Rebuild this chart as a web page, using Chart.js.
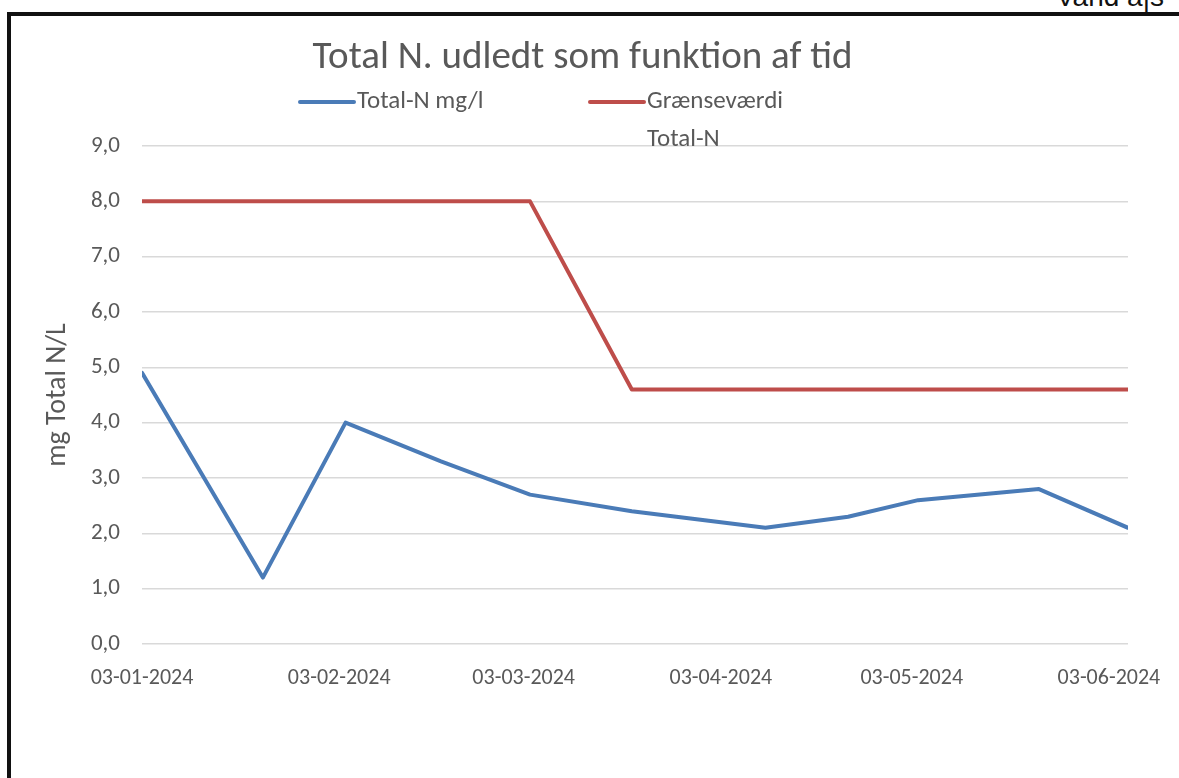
<!DOCTYPE html>
<html>
<head>
<meta charset="utf-8">
<script src="https://cdn.jsdelivr.net/npm/chart.js@4.4.0/dist/chart.umd.min.js"></script>
<style>
  body { margin: 0; background: #fff; overflow: hidden; }
  #frame { position: absolute; left: 7px; top: 12px; width: 1250px; height: 850px; border: 4px solid #111; }
  #corner { position: absolute; left: 1056px; top: -17px; font-family: "Liberation Sans", Arial, sans-serif; font-size: 28px; line-height: 28px; color: #111; }
  #wrap { position: absolute; left: 0; top: 0; width: 1179px; height: 778px; }
</style>
</head>
<body>
<div id="corner">Vand a|s</div>
<div id="frame"></div>
<div id="wrap"><canvas id="nChart" width="1179" height="778"></canvas></div>
<script>
// sample dates (yyyy-mm-dd) and values
const dates = ['2024-01-03', '2024-01-22', '2024-02-04', '2024-02-19', '2024-03-04', '2024-03-20',
               '2024-04-10', '2024-04-23', '2024-05-04', '2024-05-23', '2024-06-06'];
const totalN = [4.9, 1.2, 4.0, 3.3, 2.7, 2.4, 2.1, 2.3, 2.6, 2.8, 2.1];
const limitN = [8.0, 8.0, 8.0, 8.0, 8.0, 4.6, 4.6, 4.6, 4.6, 4.6, 4.6];
const xTickLabels = ['03-01-2024', '03-02-2024', '03-03-2024', '03-04-2024', '03-05-2024', '03-06-2024'];
const seriesNames = ['Total-N mg/l', 'Grænseværdi Total-N'];
const legendText = [['Total-N mg/l'], ['Grænseværdi', 'Total-N']];

const textColor = '#595959';
const startMs = Date.UTC(2024, 0, 3);

function isoDay(s) {
    const [y, m, d] = s.split('-').map(Number);
    return (Date.UTC(y, m - 1, d) - startMs) / 86400000;
}
function dmyDay(s) {
    const [d, m, y] = s.split('-').map(Number);
    return (Date.UTC(y, m - 1, d) - startMs) / 86400000;
}

const days = dates.map(isoDay);
const tickDays = xTickLabels.map(dmyDay);

Chart.defaults.font.family = 'Carlito, Lato, sans-serif';
Chart.defaults.color = textColor;

// legend drawn by hand so the second label can wrap like the original
const legendPlugin = {
    id: 'legendPlugin',
    afterDraw(chart) {
        const ctx = chart.ctx;
        const xs = [300, 590];
        ctx.save();
        ctx.font = '25px Carlito, Lato, sans-serif';
        ctx.textBaseline = 'middle';
        chart.data.datasets.forEach((ds, i) => {
            ctx.strokeStyle = ds.borderColor;
            ctx.lineWidth = 4;
            ctx.lineCap = 'round';
            ctx.beginPath();
            ctx.moveTo(xs[i], 102);
            ctx.lineTo(xs[i] + 54, 102);
            ctx.stroke();
            ctx.fillStyle = textColor;
            legendText[i].forEach((t, j) => {
                ctx.fillText(t, xs[i] + 57, 102 + j * 38);
            });
        });
        ctx.restore();
    }
};

new Chart(document.getElementById('nChart'), {
    type: 'line',
    data: {
        datasets: [
            {
                label: seriesNames[0],
                data: days.map((d, i) => ({ x: d, y: totalN[i] })),
                borderColor: '#4a7bb7',
                backgroundColor: '#4a7bb7',
                borderWidth: 4,
                pointRadius: 0,
                tension: 0,
                borderJoinStyle: 'round',
                borderCapStyle: 'round'
            },
            {
                label: seriesNames[1],
                data: days.map((d, i) => ({ x: d, y: limitN[i] })),
                borderColor: '#be4d4a',
                backgroundColor: '#be4d4a',
                borderWidth: 4,
                pointRadius: 0,
                tension: 0,
                borderJoinStyle: 'round',
                borderCapStyle: 'round'
            }
        ]
    },
    options: {
        responsive: false,
        animation: false,
        devicePixelRatio: 1,
        layout: {
            padding: { left: 37, right: 51, top: 0, bottom: 84 }
        },
        plugins: {
            legend: { display: false },
            tooltip: { enabled: false },
            title: {
                display: true,
                text: 'Total N. udledt som funktion af tid',
                color: textColor,
                font: { size: 39, weight: 'normal' },
                padding: { top: 34.6, bottom: 64.6 }
            }
        },
        scales: {
            x: {
                type: 'linear',
                min: 0,
                max: days[days.length - 1],
                grid: { display: false },
                border: { display: false },
                afterBuildTicks: (scale) => {
                    scale.ticks = tickDays.map(v => ({ value: v }));
                },
                afterFit: (scale) => { scale.height = 50; },
                ticks: {
                    autoSkip: false,
                    maxRotation: 0,
                    padding: 13,
                    font: { size: 22 },
                    callback: (v, i) => xTickLabels[i]
                }
            },
            y: {
                min: 0,
                max: 9,
                grid: { color: '#d9d9d9', lineWidth: 1.5, drawTicks: false },
                border: { display: false },
                afterFit: (scale) => { scale.width = 105; },
                ticks: {
                    stepSize: 1,
                    padding: 22,
                    font: { size: 23 },
                    callback: (v) => v.toFixed(1).replace('.', ',')
                },
                title: {
                    display: true,
                    text: 'mg Total N/L',
                    color: textColor,
                    font: { size: 28 },
                    padding: { top: 4, bottom: 4 }
                }
            }
        }
    },
    plugins: [legendPlugin]
});
</script>
</body>
</html>
